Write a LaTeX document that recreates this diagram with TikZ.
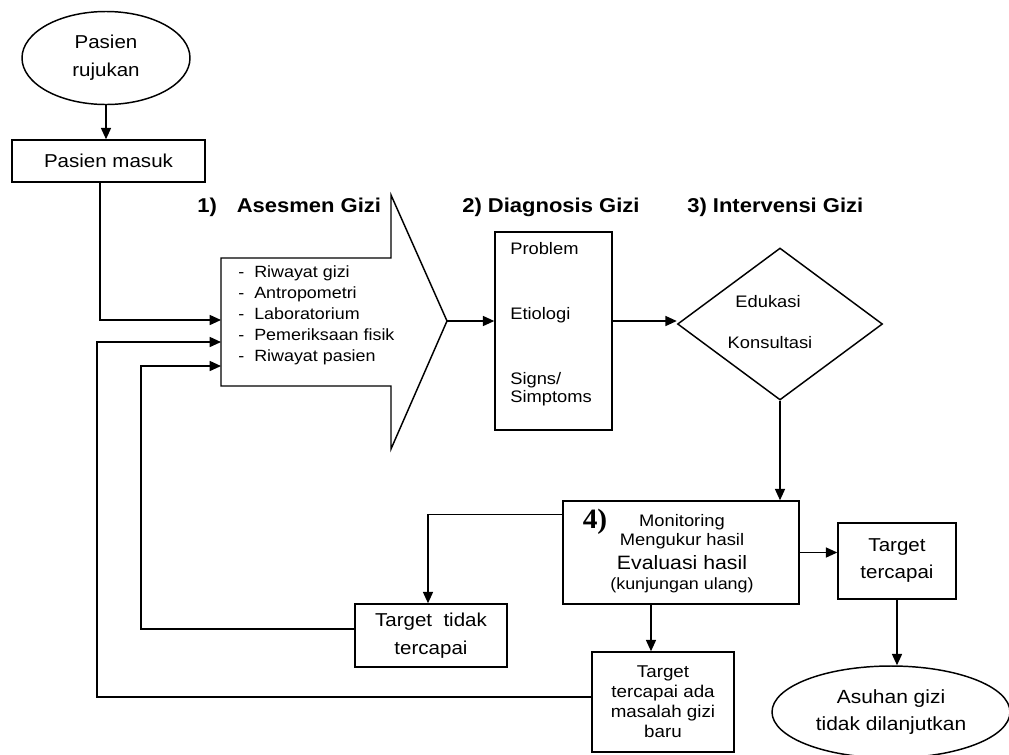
\documentclass[tikz,border=0pt]{standalone}
\usepackage{fontspec}
\setmainfont{Liberation Sans}[FakeStretch=1.1]
\newfontfamily\serifbold{Liberation Serif}[FakeStretch=1.05]
\usetikzlibrary{arrows.meta,shapes.geometric}
\newcommand\myfs[2]{\fontsize{#1pt}{#2pt}\selectfont}
\begin{document}
\begin{tikzpicture}[x=0.75pt,y=-0.75pt,
  arr/.style={-{Triangle[length=8.5pt,width=7.5pt]}, line width=1.1pt},
  boxn/.style={draw, line width=1.1pt, inner sep=0pt, align=center},
  ell/.style={draw, ellipse, line width=1.1pt, inner sep=0pt, align=center},
  ttl/.style={anchor=west, inner sep=0pt, font=\bfseries\myfs{15}{18}},
  txt/.style={inner sep=0pt, align=center}]
\useasboundingbox (0,0) rectangle (1009,754);

% start
\node[ell, minimum width=126pt, minimum height=69.75pt, font=\myfs{14}{21}] (rujukan) at (106,58) {Pasien\\rujukan};
\node[boxn, minimum width=144.75pt, minimum height=31.5pt, font=\myfs{14}{17}] (masuk) at (108.5,161) {Pasien masuk};
\draw[arr] (rujukan.south) -- (rujukan.south |- masuk.north);

% titles
\node[ttl] (t1) at (197,207) {1)\hspace{15pt}Asesmen Gizi};
\node[ttl] (t2) at (462,207) {2) Diagnosis Gizi};
\node[ttl] (t3) at (687,207) {3) Intervensi Gizi};

% asesmen block arrow
\draw[line width=1.1pt, line join=miter] (221,258) -- (391,258) -- (391,195) -- (447,321) -- (391,449) -- (391,386) -- (221,386) -- cycle;
\coordinate (asesTip) at (447,321);
\coordinate (in1) at (221,320);
\coordinate (in2) at (221,342);
\coordinate (in3) at (221,366);
\node[anchor=west, inner sep=0pt, align=left, font=\myfs{12.2}{15.75}] (aslist) at (238,315)
  {\makebox[12pt][l]{-}Riwayat gizi\\
   \makebox[12pt][l]{-}Antropometri\\
   \makebox[12pt][l]{-}Laboratorium\\
   \makebox[12pt][l]{-}Pemeriksaan fisik\\
   \makebox[12pt][l]{-}Riwayat pasien};

% diagnosis
\node[boxn, minimum width=87.75pt, minimum height=148.5pt] (diag) at (553.5,331) {};
\node[anchor=west, inner sep=0pt, align=left, font=\myfs{12.5}{13.5}] (diagtext) at (510,324)
  {Problem\\[35.25pt]Etiologi\\[35.25pt]Signs/\\Simptoms};
\draw[arr] (asesTip) -- (asesTip -| diag.west);

% intervensi
\node[draw, diamond, line width=1.1pt, inner sep=0pt, minimum width=153.75pt, minimum height=114pt] (interv) at (780,324) {};
\node[txt, font=\myfs{12.5}{15}] (edu) at (768,302) {Edukasi};
\node[txt, font=\myfs{12.5}{15}] (kons) at (770,343) {Konsultasi};
\draw[arr] (diag.east |- asesTip) -- (interv.west |- asesTip);

% monitoring
\node[boxn, minimum width=177pt, minimum height=77.25pt] (monitor) at (681,552.5) {};
\node[txt, font=\serifbold\bfseries\myfs{21}{24}] (m0) at (595,522) {4)};
\node[txt, font=\myfs{12.5}{15}] (m1) at (682,522) {Monitoring};
\node[txt, font=\myfs{12.5}{15}] (m2) at (682,541) {Mengukur hasil};
\node[txt, font=\myfs{14.5}{17}] (m3) at (682,563) {Evaluasi hasil};
\node[txt, font=\myfs{12.2}{15}] (m4) at (682,585) {(kunjungan ulang)};
\draw[arr] (interv.south) -- (interv.south |- monitor.north);

% outcomes
\node[boxn, minimum width=114pt, minimum height=47.25pt, font=\myfs{14}{21}] (tidak) at (431,635.5) {Target~~tidak\\tercapai};
\node[boxn, minimum width=106.5pt, minimum height=75pt, font=\myfs{12.8}{15}] (baru) at (663,702) {Target\\tercapai ada\\masalah gizi\\baru};
\node[boxn, minimum width=88.5pt, minimum height=57pt, font=\myfs{14}{20.25}] (tercapai) at (897,561) {Target\\tercapai};
\node[ell, minimum width=178.5pt, minimum height=69pt, font=\myfs{14.3}{20.25}] (asuhan) at (891,712) {Asuhan gizi\\tidak dilanjutkan};

\draw[arr] ([yshift=-10.5pt]monitor.north west) -| ([xshift=-2.25pt]tidak.north);
\draw[arr] ([xshift=-9pt]baru.north |- monitor.south) -- ([xshift=-9pt]baru.north);
\draw[arr] (monitor.east) -- (monitor.east -| tercapai.west);
\draw[arr] (tercapai.south) -- (tercapai.south |- asuhan.north);

% feedback loops
\coordinate (lp1) at (141,0);
\coordinate (lp2) at (97,0);
\coordinate (tw) at ([yshift=4.9pt]tidak.west);
\coordinate (bw) at ([yshift=3.75pt]baru.west);
\draw[arr] (tw) -- (lp1 |- tw) |- (in3);
\draw[arr] (bw) -- (lp2 |- bw) |- (in2);
\draw[arr] ([xshift=-6.4pt]masuk.south) |- (in1);
\end{tikzpicture}
\end{document}
